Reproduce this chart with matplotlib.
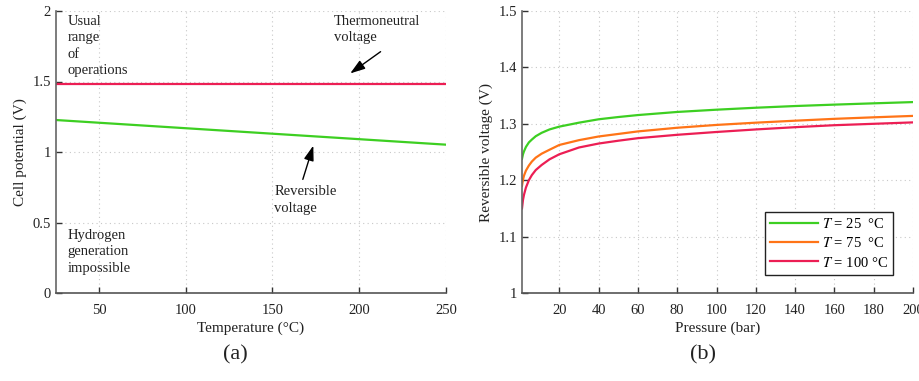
import matplotlib
matplotlib.use("Agg")
import matplotlib.pyplot as plt

plt.rcParams['font.family'] = ['Liberation Serif', 'DejaVu Serif']
plt.rcParams['mathtext.fontset'] = 'stix'

# Panel (a) data
temp = [25, 250]
v_rev = [1.227, 1.052]
v_tn = [1.482, 1.482]

# Panel (b) data
pressure = [1, 1.5, 2, 3, 4.5, 6, 8, 11, 15, 20, 30, 40, 50, 60, 80, 100, 120, 140, 160, 180, 200]
v_25 = [1.238, 1.246, 1.251, 1.259, 1.267, 1.272, 1.278, 1.284, 1.290, 1.295, 1.302,
        1.308, 1.312, 1.3155, 1.321, 1.325, 1.3285, 1.3315, 1.334, 1.3363, 1.3385]
v_75 = [1.190, 1.201, 1.208, 1.217, 1.226, 1.233, 1.240, 1.247, 1.254, 1.2625, 1.271,
        1.2775, 1.282, 1.2865, 1.293, 1.298, 1.302, 1.3055, 1.3088, 1.3115, 1.314]
v_100 = [1.150, 1.165, 1.174, 1.187, 1.200, 1.209, 1.218, 1.227, 1.237, 1.246, 1.258,
         1.265, 1.270, 1.2745, 1.2805, 1.2855, 1.290, 1.294, 1.2975, 1.300, 1.3025]
legend_labels = [r"$T$ = 25  °C", r"$T$ = 75  °C", r"$T$ = 100 °C"]

GREEN = '#3dcf22'
ORANGE = '#ff7417'
RED = '#ec1e54'

W, H = 920, 381
fig = plt.figure(figsize=(W/100, H/100), dpi=100)
ax1 = fig.add_axes([55.6/W, 1-293/H, 390.4/W, 282/H])
ax2 = fig.add_axes([522/W, 1-293/H, 391/W, 282/H])

def style(ax):
    for s in ['top', 'right']:
        ax.spines[s].set_visible(False)
    ax.spines['left'].set_color('#666666')
    ax.spines['bottom'].set_color('#555555')
    ax.spines['left'].set_linewidth(1.2)
    ax.spines['bottom'].set_linewidth(1.2)
    ax.grid(True, linestyle=(0, (1, 3)), color='#c8c8c8', linewidth=0.8)
    ax.set_axisbelow(True)
    ax.tick_params(direction='in', length=4, width=1, colors='#333333', labelsize=10.5,
                   labelcolor='#222222')
    ax.tick_params(axis='x', pad=8)

TXT = dict(fontsize=10.5, va='top', ha='left', linespacing=1.35, color='#222222')

# Panel (a)
style(ax1)
ax1.plot(temp, v_tn, color=RED, lw=1.6)
ax1.plot(temp, v_rev, color=GREEN, lw=1.6)
ax1.set_xlim(25, 250)
ax1.set_ylim(0, 2)
ax1.set_xticks([50, 100, 150, 200, 250])
ax1.set_yticks([0, 0.5, 1, 1.5, 2])
ax1.set_yticklabels(['0', '0.5', '1', '1.5', '2'])
ax1.set_xlabel('Temperature (°C)', fontsize=11, color='#222222', labelpad=3)
ax1.set_ylabel('Cell potential (V)', fontsize=11, color='#222222', labelpad=4)
ax1.text(32, 1.975, 'Usual\nrange\nof\noperations', **TXT)
ax1.text(32, 0.455, 'Hydrogen\ngeneration\nimpossible', **TXT)
ax1.text(185.5, 1.975, 'Thermoneutral\nvoltage', **TXT)
ax1.text(151, 0.765, 'Reversible\nvoltage', **TXT)
ax1.annotate('', xy=(193.5, 1.546), xytext=(213.6, 1.723),
             arrowprops=dict(arrowstyle='-|>,head_length=0.9,head_width=0.3', color='black', lw=1))
ax1.annotate('', xy=(174, 1.064), xytext=(167, 0.787),
             arrowprops=dict(arrowstyle='-|>,head_length=0.9,head_width=0.3', color='black', lw=1))

# Panel (b)
style(ax2)
ax2.plot(pressure, v_25, color=GREEN, lw=1.6, label=legend_labels[0])
ax2.plot(pressure, v_75, color=ORANGE, lw=1.6, label=legend_labels[1])
ax2.plot(pressure, v_100, color=RED, lw=1.6, label=legend_labels[2])
ax2.set_xlim(1, 200)
ax2.set_ylim(1, 1.5)
ax2.set_xticks(list(range(20, 201, 20)))
ax2.set_yticks([1, 1.1, 1.2, 1.3, 1.4, 1.5])
ax2.set_yticklabels(['1', '1.1', '1.2', '1.3', '1.4', '1.5'])
ax2.set_xlabel('Pressure (bar)', fontsize=11, color='#222222', labelpad=3)
ax2.set_ylabel('Reversible voltage (V)', fontsize=11, color='#222222', labelpad=4)
leg = ax2.legend(loc='lower right', bbox_to_anchor=(0.95, 0.065), fontsize=10.5,
                 frameon=True, fancybox=False, edgecolor='#222222', framealpha=1,
                 handlelength=3.3, handletextpad=0.3, borderpad=0.35, labelspacing=0.35,
                 borderaxespad=0)
leg.get_frame().set_linewidth(1.0)

fig.text(235/W, 1-355/H, '(a)', fontsize=16, ha='center', va='center', color='#222222')
fig.text(703/W, 1-355/H, '(b)', fontsize=16, ha='center', va='center', color='#222222')

fig.savefig('out.png', dpi=100)
